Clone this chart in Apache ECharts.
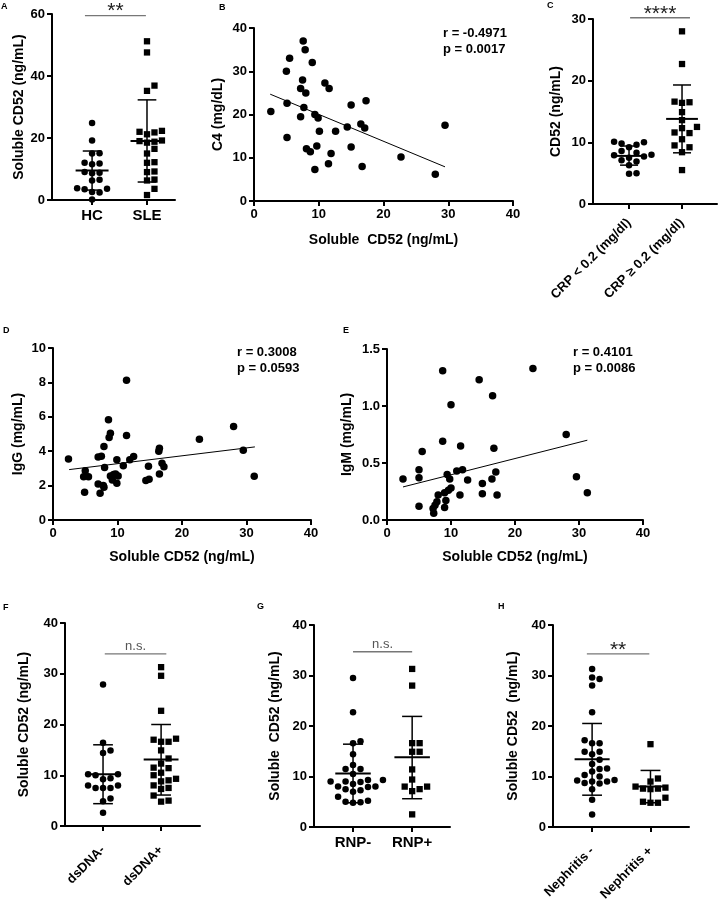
<!DOCTYPE html>
<html><head><meta charset="utf-8">
<script src="https://cdn.jsdelivr.net/npm/echarts@6/dist/echarts.min.js"></script>
<style>html,body{margin:0;padding:0;background:#fff}#c{width:719px;height:905px}</style>
</head><body><div id="c"></div><script>
// ---------------- DATA ----------------
// Panel A
const aCats = ['HC', 'SLE'];
const aHC = [24.8, 19.2, 15.1, 15.0, 12.0, 11.8, 11.5, 9.0, 8.8, 8.6, 6.5, 6.3, 3.8, 3.6, 3.5, 2.6, 2.4, 0.2];
const aSLE = [51.2, 47.6, 36.9, 35.2, 22.3, 22.0, 21.8, 21.2, 19.2, 19.0, 18.8, 18.5, 16.5, 15.0, 12.2, 12.0, 9.2, 9.0, 6.6, 6.3, 3.6, 1.6];
const aMean = [9.5, 19.0], aLow = [3.2, 5.8], aHigh = [15.8, 32.3];
// Panel B
const bX = [2.6,5.1,5.1,5.0,5.5,7.6,7.9,9.0,7.5,7.2,8.0,7.7,7.2,9.4,9.9,10.1,9.7,8.1,8.7,9.4,10.95,11.6,12.6,11.9,11.5,14.4,15.0,15.0,16.5,17.1,17.3,16.7,22.7,28.0,29.5];
const bY = [20.7,14.7,22.6,30,33,37,35,32,28,26,25,21.6,19.5,20,19.2,16.1,12.7,12.1,11.4,7.3,27.3,26,16.1,11,8.6,17.1,22.2,12.5,17.8,16.9,23.2,8,10.2,6.2,17.5];
const bFit = [[2.5, 24.7], [29.5, 7.9]];
const bStats = ['r = -0.4971', 'p = 0.0017'];
// Panel C
const cCats = ['CRP < 0.2 (mg/dl)', 'CRP \u2265 0.2 (mg/dl)'];
const cLow02 = [10.1, 10.0, 9.8, 9.6, 9.2, 8.6, 8.3, 8.0, 7.9, 7.7, 7.5, 7.1, 6.9, 6.3, 5.0, 4.9];
const cHigh02 = [28.0, 22.7, 16.6, 16.5, 16.4, 14.9, 13.6, 12.5, 12.3, 11.6, 11.5, 10.5, 9.5, 9.2, 8.4, 5.5];
const cMean = [7.8, 13.8], cLow = [6.3, 8.3], cHigh = [9.4, 19.3];
// Panel D
const dX = [2.4,5.0,4.75,5.5,4.9,7.3,7.0,7.8,7.9,7.0,7.5,7.9,8.0,8.6,8.9,8.7,8.9,9.2,9.4,9.7,9.9,9.9,10.1,10.9,11.4,11.4,11.9,12.5,14.4,14.9,14.8,16.4,16.5,16.5,16.9,17.2,22.7,28.0,29.5,31.2];
const dY = [3.55,2.87,2.52,2.52,1.61,1.55,2.1,2.0,1.9,3.67,3.7,4.27,3.05,5.83,5.05,4.8,2.56,2.33,2.64,2.68,3.5,2.14,2.56,3.16,8.12,4.91,3.5,3.69,2.29,2.37,3.13,4.0,4.17,2.68,3.3,3.1,4.7,5.44,4.06,2.54];
const dFit = [[2.5, 2.93], [31.3, 4.25]];
const dStats = ['r = 0.3008', 'p = 0.0593'];
// Panel E
const eX = [2.5,5.0,5.0,5.5,5.0,8.7,8.7,10.0,9.4,9.8,10.0,9.6,9.0,9.2,9.0,8.0,7.8,7.5,7.2,7.3,10.9,11.5,11.8,11.4,12.6,14.4,14.9,14.9,16.5,16.7,16.4,17.0,17.2,22.8,28.0,29.6,31.3];
const eY = [0.36,0.44,0.37,0.60,0.12,1.31,0.69,1.01,0.40,0.36,0.28,0.26,0.24,0.17,0.11,0.22,0.16,0.13,0.10,0.06,0.43,0.65,0.44,0.22,0.35,1.23,0.32,0.23,1.09,0.63,0.36,0.42,0.22,1.33,0.75,0.38,0.24];
const eFit = [[2.5, 0.29], [31.3, 0.70]];
const eStats = ['r = 0.4101', 'p = 0.0086'];
// Panel F
const fCats = ['dsDNA-', 'dsDNA+'];
const fNeg = [27.9, 16.4, 14.9, 14.4, 10.2, 10.2, 10.0, 9.4, 9.2, 8.0, 8.0, 7.5, 7.5, 7.5, 5.4, 4.9, 2.6];
const fPos = [31.3, 29.6, 22.7, 17.2, 17.0, 16.6, 16.6, 14.9, 13.3, 12.3, 11.5, 11.4, 10.5, 10.0, 9.3, 9.0, 8.8, 8.0, 7.5, 7.3, 6.0, 5.0, 4.8];
const fMean = [10.2, 13.1], fLow = [4.4, 6.1], fHigh = [16.0, 20.0];
// Panel G
const gCats = ['RNP-', 'RNP+'];
const gNeg = [29.5, 22.7, 17.0, 16.6, 14.4, 12.3, 11.5, 11.5, 10.5, 9.3, 9.3, 9.0, 9.0, 8.9, 8.5, 8.0, 8.0, 7.9, 7.5, 7.3, 7.0, 6.0, 5.2, 5.0, 4.9, 4.8];
const gPos = [31.3, 28.0, 16.6, 16.6, 14.9, 14.9, 11.4, 9.4, 8.0, 8.0, 7.5, 7.1, 2.5];
const gMean = [10.6, 13.8], gLow = [4.8, 5.6], gHigh = [16.4, 21.9];
// Panel H
const hCats = ['Nephritis -', 'Nephritis +'];
const hNeg = [31.3, 29.6, 29.3, 28.0, 22.7, 17.2, 16.6, 16.6, 14.9, 14.9, 14.4, 13.3, 12.5, 11.6, 11.5, 11.0, 10.3, 10.0, 9.3, 9.2, 9.0, 9.0, 8.7, 8.6, 7.5, 5.4, 2.5];
const hPos = [16.4, 9.6, 9.0, 8.0, 7.8, 7.6, 7.6, 7.5, 5.8, 5.0, 4.8, 4.8];
const hMean = [13.4, 8.0], hLow = [6.3, 4.8], hHigh = [20.5, 11.2];
// significance labels
const sigLabels = {A: '**', C: '****', F: 'n.s.', G: 'n.s.', H: '**'};

// ---------------- BUILD ----------------
const FONT = "'Liberation Sans', Arial, Helvetica, sans-serif";
const grids = [], xAxes = [], yAxes = [], series = [], graphic = [];

function baseAxis() {
  return {
    axisLine: {show: true, onZero: false, lineStyle: {color: '#000', width: 2}},
    axisTick: {show: true, length: 5, lineStyle: {color: '#000', width: 2}},
    axisLabel: {color: '#000', fontWeight: 'bold', fontSize: 13, fontFamily: FONT},
    splitLine: {show: false},
    nameLocation: 'middle',
    nameTextStyle: {color: '#000', fontWeight: 'bold', fontSize: 14, fontFamily: FONT}
  };
}

function addGrid(g) {
  grids.push({left: g[0], top: g[1], width: g[2], height: g[3], containLabel: false, outerBoundsMode: 'none'});
  return grids.length - 1;
}

function swarm(vals, center, pxX, pxY, size) {
  const placed = [], out = [];
  const sorted = vals.slice().sort((a, b) => a - b);
  for (const v of sorted) {
    const py = v * pxY;
    let off = 0;
    for (let i = 0; i < 60; i++) {
      off = i === 0 ? 0 : (i % 2 ? 1 : -1) * Math.ceil(i / 2) * size * 1.15;
      if (!placed.some(p => Math.abs(p[0] - off) < size * 1.1 && Math.abs(p[1] - py) < size * 1.05)) break;
    }
    placed.push([off, py]);
    out.push([center + off / pxX, v]);
  }
  return out;
}

function addDotPlot(o) {
  const gi = addGrid(o.grid);
  const xa = baseAxis();
  Object.assign(xa, {type: 'value', gridIndex: gi, min: o.xMin, max: o.xMax});
  xa.axisTick = Object.assign({}, xa.axisTick, {customValues: [0, 1]});
  xa.axisLabel = Object.assign({}, xa.axisLabel, {customValues: [0, 1], fontSize: o.rotate ? 13 : 15,
    margin: o.labelMargin || 8, rotate: o.rotate || 0, formatter: v => o.cats[Math.round(v)]});
  xAxes.push(xa);
  const ya = baseAxis();
  Object.assign(ya, {type: 'value', gridIndex: gi, min: 0, max: o.yMax, interval: o.yInterval,
    name: o.yName, nameGap: o.yNameGap});
  ya.axisLabel = Object.assign({}, ya.axisLabel, {margin: 7});
  yAxes.push(ya);
  const sz = 6.5;
  const pxX = o.grid[2] / (o.xMax - o.xMin), pxY = o.grid[3] / o.yMax;
  o.groups.forEach((vals, k) => {
    series.push({type: 'scatter', xAxisIndex: gi, yAxisIndex: gi, symbol: o.symbols[k],
      symbolSize: o.symbols[k] === 'rect' ? 6.3 : sz, itemStyle: {color: '#000', opacity: 1}, silent: true,
      data: swarm(vals, k, pxX, pxY, sz)});
  });
  series.push({type: 'custom', xAxisIndex: gi, yAxisIndex: gi, silent: true, z: 5,
    data: o.mean.map((m, k) => [k, m, o.low[k], o.high[k]]),
    renderItem: (p, api) => {
      const x = api.value(0), m = api.value(1), l = api.value(2), h = api.value(3);
      const hw = 0.3, cw = 0.17;
      const A = api.coord([x - hw, m]), B = api.coord([x + hw, m]);
      const L = api.coord([x, l]), H = api.coord([x, h]);
      const L1 = api.coord([x - cw, l]), L2 = api.coord([x + cw, l]);
      const H1 = api.coord([x - cw, h]), H2 = api.coord([x + cw, h]);
      const st = {stroke: '#000', lineWidth: 1.5};
      return {type: 'group', children: [
        {type: 'line', shape: {x1: A[0], y1: A[1], x2: B[0], y2: B[1]}, style: {stroke: '#000', lineWidth: 2}},
        {type: 'line', shape: {x1: L[0], y1: L[1], x2: H[0], y2: H[1]}, style: st},
        {type: 'line', shape: {x1: L1[0], y1: L1[1], x2: L2[0], y2: L2[1]}, style: st},
        {type: 'line', shape: {x1: H1[0], y1: H1[1], x2: H2[0], y2: H2[1]}, style: st}
      ]};
    }});
  const sig = o.sig;
  series.push({type: 'custom', xAxisIndex: gi, yAxisIndex: gi, silent: true, clip: false, z: 6,
    data: [[sig.x1, sig.x2, sig.y]],
    renderItem: (p, api) => {
      const P1 = api.coord([api.value(0), api.value(2)]);
      const P2 = api.coord([api.value(1), api.value(2)]);
      const isStar = sig.text.indexOf('*') >= 0;
      return {type: 'group', children: [
        {type: 'line', shape: {x1: P1[0], y1: P1[1], x2: P2[0], y2: P2[1]}, style: {stroke: '#777', lineWidth: 1.3}},
        {type: 'text', x: (P1[0] + P2[0]) / 2, y: isStar ? P1[1] - 4 : P1[1] - 1,
          style: {text: sig.text, textAlign: 'center', textVerticalAlign: isStar ? 'middle' : 'bottom',
            fill: isStar ? '#222' : '#555', fontSize: isStar ? 21 : 13, fontFamily: FONT}}
      ]};
    }});
}

function addScatter(o) {
  const gi = addGrid(o.grid);
  const xa = baseAxis();
  Object.assign(xa, {type: 'value', gridIndex: gi, min: 0, max: 40, interval: 10,
    name: o.xName, nameGap: o.xNameGap});
  xa.axisLabel = Object.assign({}, xa.axisLabel, {margin: 7});
  xAxes.push(xa);
  const ya = baseAxis();
  Object.assign(ya, {type: 'value', gridIndex: gi, min: 0, max: o.yMax, interval: o.yInterval,
    name: o.yName, nameGap: o.yNameGap});
  ya.axisLabel = Object.assign({}, ya.axisLabel, {margin: 7});
  if (o.yFmt) ya.axisLabel.formatter = o.yFmt;
  yAxes.push(ya);
  series.push({type: 'scatter', xAxisIndex: gi, yAxisIndex: gi, symbol: 'circle', symbolSize: 7.5,
    itemStyle: {color: '#000', opacity: 1}, silent: true, data: o.xs.map((x, i) => [x, o.ys[i]])});
  series.push({type: 'line', xAxisIndex: gi, yAxisIndex: gi, symbol: 'none', silent: true,
    lineStyle: {color: '#000', width: 1}, data: o.fit});
  o.stats.forEach((t, i) => graphic.push({type: 'text', left: o.statPos[0], top: o.statPos[1] + i * 16,
    style: {text: t, fill: '#000', font: 'bold 13px ' + FONT}}));
}

addDotPlot({grid: [52, 14, 123, 186], xMin: -0.73, xMax: 1.51, cats: aCats, groups: [aHC, aSLE],
  symbols: ['circle', 'rect'], mean: aMean, low: aLow, high: aHigh, yMax: 60, yInterval: 20,
  yName: 'Soluble CD52 (ng/mL)', yNameGap: 25, sig: {x1: -0.13, x2: 0.98, y: 59.5, text: sigLabels.A}});
addScatter({grid: [254, 28, 259, 173], xs: bX, ys: bY, fit: bFit, yMax: 40, yInterval: 10,
  yName: 'C4 (mg/dL)', yNameGap: 29, xName: 'Soluble  CD52 (ng/mL)', xNameGap: 32,
  stats: bStats, statPos: [443, 27]});
addDotPlot({grid: [593, 19, 124, 185], xMin: -0.68, xMax: 1.66, cats: cCats, groups: [cLow02, cHigh02],
  symbols: ['circle', 'rect'], mean: cMean, low: cLow, high: cHigh, yMax: 30, yInterval: 10, rotate: 45,
  labelMargin: 17,
  yName: 'CD52 (ng/mL)', yNameGap: 30, sig: {x1: 0.02, x2: 1.15, y: 30.2, text: sigLabels.C}});
addScatter({grid: [53, 348, 258, 172], xs: dX, ys: dY, fit: dFit, yMax: 10, yInterval: 2,
  yName: 'IgG (mg/mL)', yNameGap: 28, xName: 'Soluble CD52 (ng/mL)', xNameGap: 30,
  stats: dStats, statPos: [237, 346]});
addScatter({grid: [387, 349, 256, 171], xs: eX, ys: eY, fit: eFit, yMax: 1.5, yInterval: 0.5,
  yName: 'IgM (mg/mL)', yNameGap: 33, xName: 'Soluble CD52 (ng/mL)', xNameGap: 30,
  yFmt: v => v.toFixed(1), stats: eStats, statPos: [573, 346]});
addDotPlot({grid: [65, 623, 135, 203], xMin: -0.655, xMax: 1.67, cats: fCats, groups: [fNeg, fPos],
  symbols: ['circle', 'rect'], mean: fMean, low: fLow, high: fHigh, yMax: 40, yInterval: 10, rotate: 45,
  labelMargin: 22,
  yName: 'Soluble CD52 (ng/mL)', yNameGap: 34, sig: {x1: 0.03, x2: 1.09, y: 33.9, text: sigLabels.F}});
addDotPlot({grid: [314, 625, 136, 202], xMin: -0.66, xMax: 1.64, cats: gCats, groups: [gNeg, gPos],
  symbols: ['circle', 'rect'], mean: gMean, low: gLow, high: gHigh, yMax: 40, yInterval: 10,
  yName: 'Soluble  CD52 (ng/mL)', yNameGap: 32, sig: {x1: 0.0, x2: 1.0, y: 34.7, text: sigLabels.G}});
addDotPlot({grid: [553, 625, 136, 202], xMin: -0.67, xMax: 1.66, cats: hCats, groups: [hNeg, hPos],
  symbols: ['circle', 'rect'], mean: hMean, low: hLow, high: hHigh, yMax: 40, yInterval: 10, rotate: 45,
  labelMargin: 22,
  yName: 'Soluble CD52  (ng/mL)', yNameGap: 33, sig: {x1: -0.09, x2: 0.98, y: 34.3, text: sigLabels.H}});

// panel letters
[['A', 1, 2], ['B', 219, 3], ['C', 547, 1], ['D', 3, 326], ['E', 343, 326], ['F', 3, 603], ['G', 257, 602], ['H', 498, 602]]
  .forEach(l => graphic.push({type: 'text', left: l[1], top: l[2], style: {text: l[0], fill: '#000', font: 'bold 9px ' + FONT}}));

const chart = echarts.init(document.getElementById('c'), null, {renderer: 'canvas'});
chart.setOption({backgroundColor: '#fff', animation: false, grid: grids, xAxis: xAxes, yAxis: yAxes,
  series: series, graphic: graphic});
</script></body></html>
